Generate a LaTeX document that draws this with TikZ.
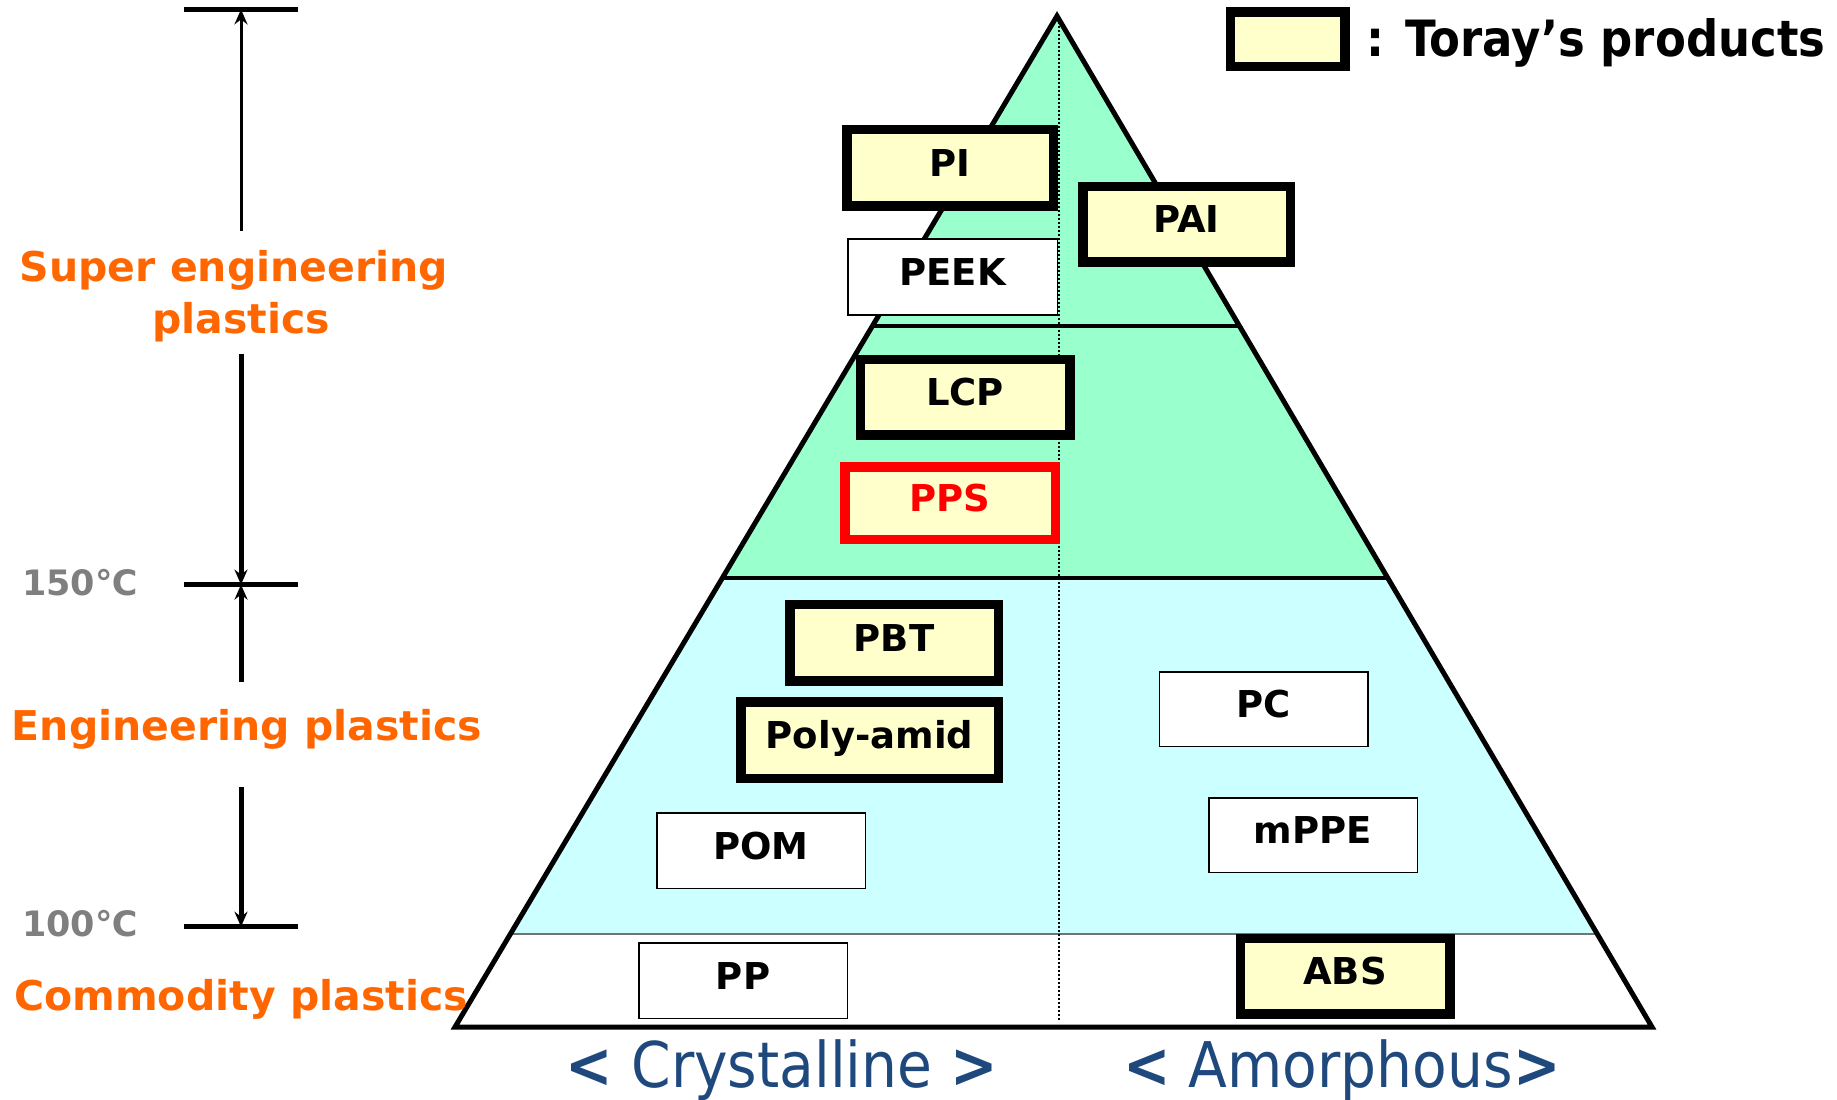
\documentclass[tikz,border=0pt]{standalone}
\usepackage{fontspec}
\setmainfont{DejaVu Sans}
\newfontfamily\narrowfont[FakeStretch=0.9]{DejaVu Sans}
\usetikzlibrary{arrows.meta}
\definecolor{toray}{HTML}{FFFFCC}
\definecolor{supergreen}{HTML}{99FFCC}
\definecolor{engcyan}{HTML}{CCFFFF}
\definecolor{orangelbl}{HTML}{FF6600}
\definecolor{graylbl}{HTML}{7F7F7F}
\definecolor{bluelbl}{HTML}{1F497D}
\begin{document}
\begin{tikzpicture}[x=1pt,y=-1pt,
  boxfont/.style={font=\fontsize{37}{41}\selectfont\bfseries, text height=27pt, text depth=10pt},
  prod/.style={draw=black, line width=9.5pt, fill=toray, inner sep=0pt, boxfont},
  other/.style={draw=black, line width=1.5pt, fill=white, inner sep=0pt, boxfont},
  classlbl/.style={text=orangelbl, font=\fontsize{41}{45}\selectfont\bfseries, inner sep=0pt, anchor=base},
  templbl/.style={text=graylbl, font=\fontsize{35}{40}\selectfont\bfseries, inner sep=0pt, anchor=base},
  axislbl/.style={text=bluelbl, font=\narrowfont\fontsize{63}{68}\selectfont, inner sep=0pt, anchor=base},
  tick/.style={line width=5pt},
  dimarrow/.style={line width=5pt, -{Stealth[length=15pt,width=13pt,inset=5pt]}}
]
\useasboundingbox (0,0) rectangle (1837,1100);

% pyramid
\fill[supergreen] (1057,16) -- (722,578) -- (1388,578) -- cycle;
\fill[engcyan] (722,578) -- (510,934) -- (1597,934) -- (1388,578) -- cycle;
\draw[line width=3.5pt] (873,326) -- (1240,326);
\draw[line width=4pt] (722,578) -- (1388,578);
\draw[line width=2pt, black!55] (510,934) -- (1597,934);
\draw[line width=5pt, line join=miter] (1057,16) -- (455,1027) -- (1652,1027) -- cycle;
\draw[dotted, line width=2pt] (1059,18) -- (1059,1020);

% products
\node[prod, minimum width=206.5pt, minimum height=76.5pt] (pi) at (950,167.9) {PI};
\node[prod, minimum width=207.5pt, minimum height=75.5pt] (pai) at (1186.5,224.2) {PAI};
\node[other, minimum width=209.5pt, minimum height=76pt] (peek) at (952.5,276.8) {PEEK};
\node[prod, minimum width=209.5pt, minimum height=75.5pt] (lcp) at (965,397) {LCP};
\node[prod, draw=red, text=red, minimum width=210.5pt, minimum height=72.5pt] (pps) at (950,503) {PPS};
\node[prod, minimum width=208.5pt, minimum height=76.5pt] (pbt) at (894,642.8) {PBT};
\node[prod, minimum width=257.5pt, minimum height=76.5pt] (pa) at (869.5,740) {Poly-amid};
\node[other, minimum width=208.5pt, minimum height=75.5pt] (pom) at (761,850.5) {POM};
\node[other, minimum width=208.5pt, minimum height=74.5pt] (pc) at (1263.5,709) {PC};
\node[other, minimum width=208.5pt, minimum height=74.5pt] (mppe) at (1313,835) {mPPE};
\node[other, minimum width=208.5pt, minimum height=75.5pt] (pp) at (743,980.5) {PP};
\node[prod, minimum width=209.5pt, minimum height=75.5pt] (abs) at (1345,976) {ABS};

% legend
\node[prod, minimum width=114.5pt, minimum height=54.5pt] (legbox) at (1287.6,39) {};
\node[anchor=base west, inner sep=0pt, font=\narrowfont\fontsize{50}{55}\selectfont\bfseries] (legtxt) at (1366,56) {: Toray’s products};

% axis labels
\node[axislbl] (cryst) at (782,1087) {\textbf{<} Crystalline \textbf{>}};
\node[axislbl] (amor) at (1342,1087) {\textbf{<} Amorphous\textbf{>}};

% left scale
\coordinate (t1) at (241,9.4);
\coordinate (t2) at (241,584.6);
\coordinate (t3) at (241,926.7);
\draw[tick] (184,9.4) -- (298,9.4);
\draw[tick] (184,584.6) -- (298,584.6);
\draw[tick] (184,926.7) -- (298,926.7);

\node[classlbl] (sup1) at (234,281) {Super engineering};
\node[classlbl] (sup2) at (241,333) {plastics};
\node[classlbl] (eng) at (247,740.5) {Engineering plastics};
\node[classlbl] (com) at (241,1010) {Commodity plastics};
\node[templbl] (c150) at (80,595) {150℃};
\node[templbl] (c100) at (80,936) {100℃};

\coordinate (a1) at (241,231);
\coordinate (a2) at (241,354);
\coordinate (a3) at (241,682);
\coordinate (a4) at (241,787);
\draw[dimarrow, line width=3pt] (a1) -- (t1);
\draw[dimarrow] (a2) -- (t2);
\draw[dimarrow] (a3) -- (t2);
\draw[dimarrow] (a4) -- (t3);
\end{tikzpicture}
\end{document}
